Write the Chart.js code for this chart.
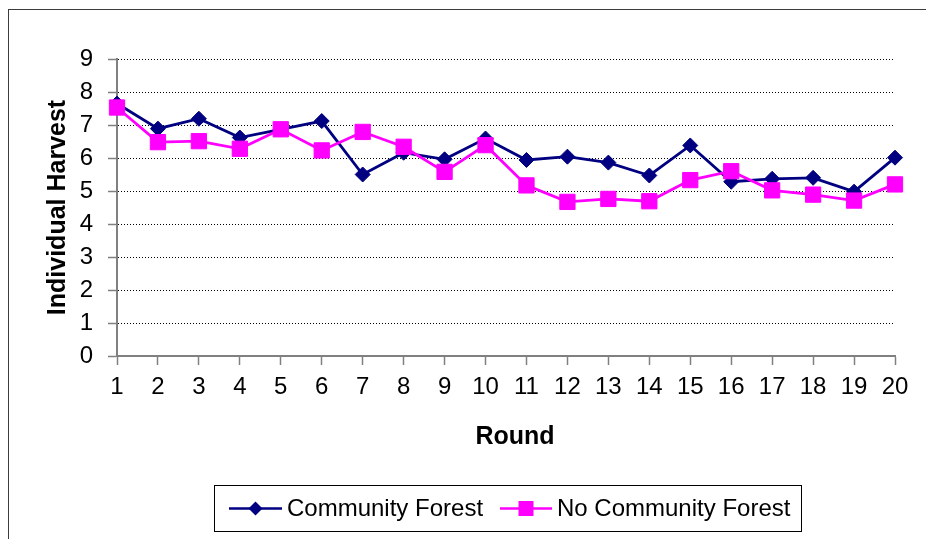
<!DOCTYPE html>
<html>
<head>
<meta charset="utf-8">
<title>Individual Harvest by Round</title>
<script src="https://cdn.jsdelivr.net/npm/chart.js@4/dist/chart.umd.min.js"></script>
<style>
  html, body { margin: 0; padding: 0; background: #ffffff; }
  #wrap { width: 926px; height: 539px; position: relative; }
</style>
</head>
<body>
<div id="wrap"><canvas id="harvest" width="926" height="539"></canvas></div>
<script>
// Rounds of the experiment (x axis)
const rounds = ['1','2','3','4','5','6','7','8','9','10','11','12','13','14','15','16','17','18','19','20'];

// Mean individual harvest per round
const communityForest   = [7.65, 6.89, 7.19, 6.62, 6.87, 7.12, 5.50, 6.16, 5.96, 6.59, 5.94, 6.04, 5.86, 5.47, 6.38, 5.28, 5.37, 5.40, 4.98, 6.01];
const noCommunityForest = [7.53, 6.48, 6.51, 6.28, 6.87, 6.23, 6.79, 6.34, 5.58, 6.39, 5.17, 4.67, 4.76, 4.69, 5.33, 5.60, 5.02, 4.89, 4.71, 5.20];

// Y axis range
const yMin = 0;
const yMax = 9;
const yStep = 1;

const seriesNames = ['Community Forest', 'No Community Forest'];
const NAVY = '#000080';
const MAGENTA = '#FF00FF';
const AXIS_GREY = '#808080';
const FONT = '"Liberation Sans", Arial, sans-serif';

// Outer frame of the chart object
const framePlugin = {
  id: 'frame',
  beforeDraw(chart) {
    const ctx = chart.ctx;
    ctx.save();
    ctx.fillStyle = '#ffffff';
    ctx.fillRect(0, 0, chart.width, chart.height);
    ctx.strokeStyle = '#3c3c3c';
    ctx.lineWidth = 1;
    ctx.strokeRect(8.5, 9.5, chart.width + 10, chart.height + 10);
    ctx.restore();
  }
};

// "Round" axis caption, placed under the tick labels
const xCaptionPlugin = {
  id: 'xCaption',
  afterDraw(chart) {
    const a = chart.chartArea;
    const ctx = chart.ctx;
    ctx.save();
    ctx.font = 'bold 25px ' + FONT;
    ctx.fillStyle = '#000000';
    ctx.textAlign = 'center';
    ctx.textBaseline = 'middle';
    ctx.fillText('Round', (a.left + a.right) / 2 + 9, a.bottom + 81);
    ctx.restore();
  }
};

// Boxed legend with line-and-marker samples
const boxLegendPlugin = {
  id: 'boxLegend',
  afterDraw(chart) {
    const ctx = chart.ctx;
    const box = { x: 214.5, y: 485.5, w: 587, h: 46 };
    const cy = box.y + box.h / 2;
    ctx.save();
    ctx.strokeStyle = '#000000';
    ctx.lineWidth = 1;
    ctx.strokeRect(box.x, box.y, box.w, box.h);

    const entries = [
      { x0: 229, x1: 282, tx: 287 },
      { x0: 500, x1: 552, tx: 557 }
    ];
    chart.data.datasets.forEach((ds, i) => {
      const e = entries[i];
      ctx.strokeStyle = ds.borderColor;
      ctx.lineWidth = 2.5;
      ctx.beginPath();
      ctx.moveTo(e.x0, cy);
      ctx.lineTo(e.x1, cy);
      ctx.stroke();
      const mx = (e.x0 + e.x1) / 2;
      ctx.fillStyle = ds.pointBackgroundColor;
      ctx.beginPath();
      if (ds.pointStyle === 'rectRot') {
        const r = 7;
        ctx.moveTo(mx - r, cy);
        ctx.lineTo(mx, cy - r);
        ctx.lineTo(mx + r, cy);
        ctx.lineTo(mx, cy + r);
        ctx.closePath();
      } else {
        ctx.rect(mx - 7.5, cy - 7.5, 15, 15);
      }
      ctx.fill();
      ctx.fillStyle = '#000000';
      ctx.font = '24px ' + FONT;
      ctx.textAlign = 'left';
      ctx.textBaseline = 'middle';
      ctx.fillText(ds.label, e.tx, cy + 1);
    });
    ctx.restore();
  }
};

new Chart(document.getElementById('harvest'), {
  type: 'line',
  data: {
    labels: rounds,
    datasets: [
      {
        label: seriesNames[0],
        data: communityForest,
        borderColor: NAVY,
        backgroundColor: NAVY,
        pointBackgroundColor: NAVY,
        pointBorderColor: NAVY,
        pointStyle: 'rectRot',
        pointRadius: 7.5,
        pointBorderWidth: 1,
        borderWidth: 2.8,
        tension: 0,
        clip: false,
        order: 1
      },
      {
        label: seriesNames[1],
        data: noCommunityForest,
        borderColor: MAGENTA,
        backgroundColor: MAGENTA,
        pointBackgroundColor: MAGENTA,
        pointBorderColor: MAGENTA,
        pointStyle: 'rect',
        pointRadius: 10.8,
        pointBorderWidth: 1,
        borderWidth: 2.8,
        tension: 0,
        clip: false,
        order: 0
      }
    ]
  },
  options: {
    responsive: false,
    animation: false,
    layout: { padding: { left: 0, top: 59, right: 31, bottom: 0 } },
    plugins: {
      legend: { display: false },
      tooltip: { enabled: false },
      title: { display: false }
    },
    scales: {
      x: {
        type: 'category',
        offset: false,
        grid: {
          drawOnChartArea: false,
          drawTicks: true,
          tickLength: 9,
          tickColor: AXIS_GREY,
          tickWidth: 1.5
        },
        border: { display: true, color: AXIS_GREY, width: 2 },
        ticks: {
          color: '#000000',
          font: { family: FONT, size: 24 },
          padding: 8,
          maxRotation: 0,
          autoSkip: false
        },
        afterFit(scale) { scale.height = 183; }
      },
      y: {
        min: yMin,
        max: yMax,
        grid: {
          color: (c) => (c.tick && c.tick.value === 0 ? 'rgba(0,0,0,0)' : '#000000'),
          lineWidth: 1,
          drawTicks: true,
          tickLength: 9,
          tickColor: AXIS_GREY,
          tickWidth: 1.5,
          tickBorderDash: []
        },
        border: { display: true, color: AXIS_GREY, width: 2, dash: [1, 2] },
        ticks: {
          stepSize: yStep,
          color: '#000000',
          font: { family: FONT, size: 24 },
          padding: 15
        },
        title: {
          display: true,
          text: 'Individual Harvest',
          color: '#000000',
          font: { family: FONT, size: 25, weight: 'bold' },
          padding: { top: 43, bottom: 0 }
        },
        afterFit(scale) { scale.width = 117; }
      }
    }
  },
  plugins: [framePlugin, xCaptionPlugin, boxLegendPlugin]
});
</script>
</body>
</html>
